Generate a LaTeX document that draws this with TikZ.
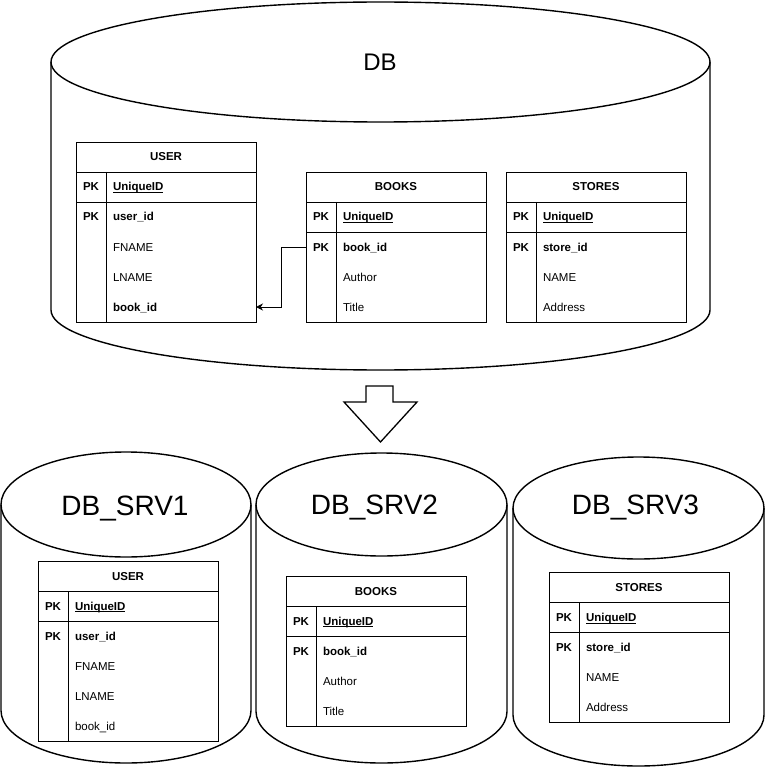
\documentclass[tikz,border=0pt]{standalone}
\usepackage{fontspec}
\setmainfont{Liberation Sans}
\usetikzlibrary{positioning, arrows.meta}
\tikzset{
  tblhead/.style={draw, rectangle, line width=0.9pt, minimum width=180pt, minimum height=30pt, inner sep=0pt, outer sep=0pt, text height=10pt, text depth=2pt, font=\fontsize{11.5}{13}\selectfont\bfseries}, % table title
  keycell/.style={rectangle, minimum width=30pt, minimum height=30pt, inner sep=0pt, outer sep=0pt, text height=10pt, text depth=2pt, font=\fontsize{11.5}{13}\selectfont\bfseries}, % PK column
  fieldcell/.style={rectangle, text width=136pt, align=left, inner xsep=7pt, inner ysep=0pt, minimum height=30pt, outer sep=0pt, text height=10pt, text depth=2pt, font=\fontsize{11.5}{13}\selectfont}, % field names
  tblline/.style={line width=0.9pt},
  cyl/.style={line width=1.4pt},
  dblabel/.style={anchor=base, font=\fontsize{28}{32}\selectfont},
  fk/.style={-{Stealth[length=7pt, width=7pt]}, line width=0.9pt},
}

\begin{document}
\begin{tikzpicture}[x=1pt, y=1pt]
		\fill[white] (0,0) rectangle (765,-767);
		\useasboundingbox (0,0) rectangle (765,-767);

		% Base de datos original
		\draw[cyl] (51,-62) -- (51,-310) arc (180:360:329.5pt and 60pt) -- (710,-62);
		\draw[cyl] (380.5,-62) ellipse (329.5pt and 60pt);
		\node[dblabel, font=\fontsize{24}{28}\selectfont] (db) at (380,-71) {DB};

		\node[tblhead, anchor=north west] (ut) at (76,-142) {USER};
		\node[keycell, anchor=north west] (uk1) at (ut.south west) {PK};
		\node[fieldcell, right=0pt of uk1] (uf1) {\textbf{\underline{\smash{UniqueID}}}};
		\node[keycell, below=0pt of uk1] (uk2) {PK};  \node[fieldcell, right=0pt of uk2] (uf2) {\textbf{user\_id}};
		\node[keycell, below=0pt of uk2] (uk3) {};    \node[fieldcell, right=0pt of uk3] (uf3) {FNAME};
		\node[keycell, below=0pt of uk3] (uk4) {};    \node[fieldcell, right=0pt of uk4] (uf4) {LNAME};
		\node[keycell, below=0pt of uk4] (uk5) {};    \node[fieldcell, right=0pt of uk5] (uf5) {\textbf{book\_id}};
		\draw[tblline] (uk1.north west) rectangle (uf1.south east);
		\draw[tblline] (uk2.north west) rectangle (uf5.south east);
		\draw[tblline] (uk1.north east) -- (uk5.south east);

		\node[tblhead, anchor=north west] (bt) at (306,-172) {BOOKS};
		\node[keycell, anchor=north west] (bk1) at (bt.south west) {PK};
		\node[fieldcell, right=0pt of bk1] (bf1) {\textbf{\underline{\smash{UniqueID}}}};
		\node[keycell, below=0pt of bk1] (bk2) {PK};  \node[fieldcell, right=0pt of bk2] (bf2) {\textbf{book\_id}};
		\node[keycell, below=0pt of bk2] (bk3) {};    \node[fieldcell, right=0pt of bk3] (bf3) {Author};
		\node[keycell, below=0pt of bk3] (bk4) {};    \node[fieldcell, right=0pt of bk4] (bf4) {Title};
		\draw[tblline] (bk1.north west) rectangle (bf1.south east);
		\draw[tblline] (bk2.north west) rectangle (bf4.south east);
		\draw[tblline] (bk1.north east) -- (bk4.south east);

		\node[tblhead, anchor=north west] (st) at (506,-172) {STORES};
		\node[keycell, anchor=north west] (sk1) at (st.south west) {PK};
		\node[fieldcell, right=0pt of sk1] (sf1) {\textbf{\underline{\smash{UniqueID}}}};
		\node[keycell, below=0pt of sk1] (sk2) {PK};  \node[fieldcell, right=0pt of sk2] (sf2) {\textbf{store\_id}};
		\node[keycell, below=0pt of sk2] (sk3) {};    \node[fieldcell, right=0pt of sk3] (sf3) {NAME};
		\node[keycell, below=0pt of sk3] (sk4) {};    \node[fieldcell, right=0pt of sk4] (sf4) {Address};
		\draw[tblline] (sk1.north west) rectangle (sf1.south east);
		\draw[tblline] (sk2.north west) rectangle (sf4.south east);
		\draw[tblline] (sk1.north east) -- (sk4.south east);

		% Clave foranea
		\draw[fk] (bk2.west) -- ++(-25,0) |- (uf5.east);

		% Flecha grande
		\draw[line width=1.3pt, line join=miter] (366,-386) -- (393,-386) -- (393,-402) -- (417,-402) -- (380.5,-442) -- (344,-402) -- (366,-402) -- cycle;

		% Servidores
		\draw[cyl] (1,-504.5) -- (1,-710.5) arc (180:360:125pt and 52.5pt) -- (251,-504.5);
		\draw[cyl] (126,-504.5) ellipse (125pt and 52.5pt);
		\node[dblabel] (srv1) at (125,-515) {DB\_SRV1};

		\draw[cyl] (256,-504.5) -- (256,-711.5) arc (180:360:125.5pt and 51.5pt) -- (507,-504.5);
		\draw[cyl] (381.5,-504.5) ellipse (125.5pt and 51.5pt);
		\node[dblabel] (srv2) at (374.5,-514) {DB\_SRV2};

		\draw[cyl] (513,-508) -- (513,-715) arc (180:360:125.5pt and 51pt) -- (764,-508);
		\draw[cyl] (638.5,-508) ellipse (125.5pt and 51pt);
		\node[dblabel] (srv3) at (635.5,-514) {DB\_SRV3};

		\node[tblhead, anchor=north west] (u2t) at (38,-561) {USER};
		\node[keycell, anchor=north west] (u2k1) at (u2t.south west) {PK};
		\node[fieldcell, right=0pt of u2k1] (u2f1) {\textbf{\underline{\smash{UniqueID}}}};
		\node[keycell, below=0pt of u2k1] (u2k2) {PK};  \node[fieldcell, right=0pt of u2k2] (u2f2) {\textbf{user\_id}};
		\node[keycell, below=0pt of u2k2] (u2k3) {};    \node[fieldcell, right=0pt of u2k3] (u2f3) {FNAME};
		\node[keycell, below=0pt of u2k3] (u2k4) {};    \node[fieldcell, right=0pt of u2k4] (u2f4) {LNAME};
		\node[keycell, below=0pt of u2k4] (u2k5) {};    \node[fieldcell, right=0pt of u2k5] (u2f5) {book\_id};
		\draw[tblline] (u2k1.north west) rectangle (u2f1.south east);
		\draw[tblline] (u2k2.north west) rectangle (u2f5.south east);
		\draw[tblline] (u2k1.north east) -- (u2k5.south east);

		\node[tblhead, anchor=north west] (b2t) at (286,-576) {BOOKS};
		\node[keycell, anchor=north west] (b2k1) at (b2t.south west) {PK};
		\node[fieldcell, right=0pt of b2k1] (b2f1) {\textbf{\underline{\smash{UniqueID}}}};
		\node[keycell, below=0pt of b2k1] (b2k2) {PK};  \node[fieldcell, right=0pt of b2k2] (b2f2) {\textbf{book\_id}};
		\node[keycell, below=0pt of b2k2] (b2k3) {};    \node[fieldcell, right=0pt of b2k3] (b2f3) {Author};
		\node[keycell, below=0pt of b2k3] (b2k4) {};    \node[fieldcell, right=0pt of b2k4] (b2f4) {Title};
		\draw[tblline] (b2k1.north west) rectangle (b2f1.south east);
		\draw[tblline] (b2k2.north west) rectangle (b2f4.south east);
		\draw[tblline] (b2k1.north east) -- (b2k4.south east);

		\node[tblhead, anchor=north west] (s2t) at (549,-572.5) {STORES};
		\node[keycell, anchor=north west] (s2k1) at (s2t.south west) {PK};
		\node[fieldcell, right=0pt of s2k1] (s2f1) {\textbf{\underline{\smash{UniqueID}}}};
		\node[keycell, below=0pt of s2k1] (s2k2) {PK};  \node[fieldcell, right=0pt of s2k2] (s2f2) {\textbf{store\_id}};
		\node[keycell, below=0pt of s2k2] (s2k3) {};    \node[fieldcell, right=0pt of s2k3] (s2f3) {NAME};
		\node[keycell, below=0pt of s2k3] (s2k4) {};    \node[fieldcell, right=0pt of s2k4] (s2f4) {Address};
		\draw[tblline] (s2k1.north west) rectangle (s2f1.south east);
		\draw[tblline] (s2k2.north west) rectangle (s2f4.south east);
		\draw[tblline] (s2k1.north east) -- (s2k4.south east);

	\end{tikzpicture}
\end{document}
